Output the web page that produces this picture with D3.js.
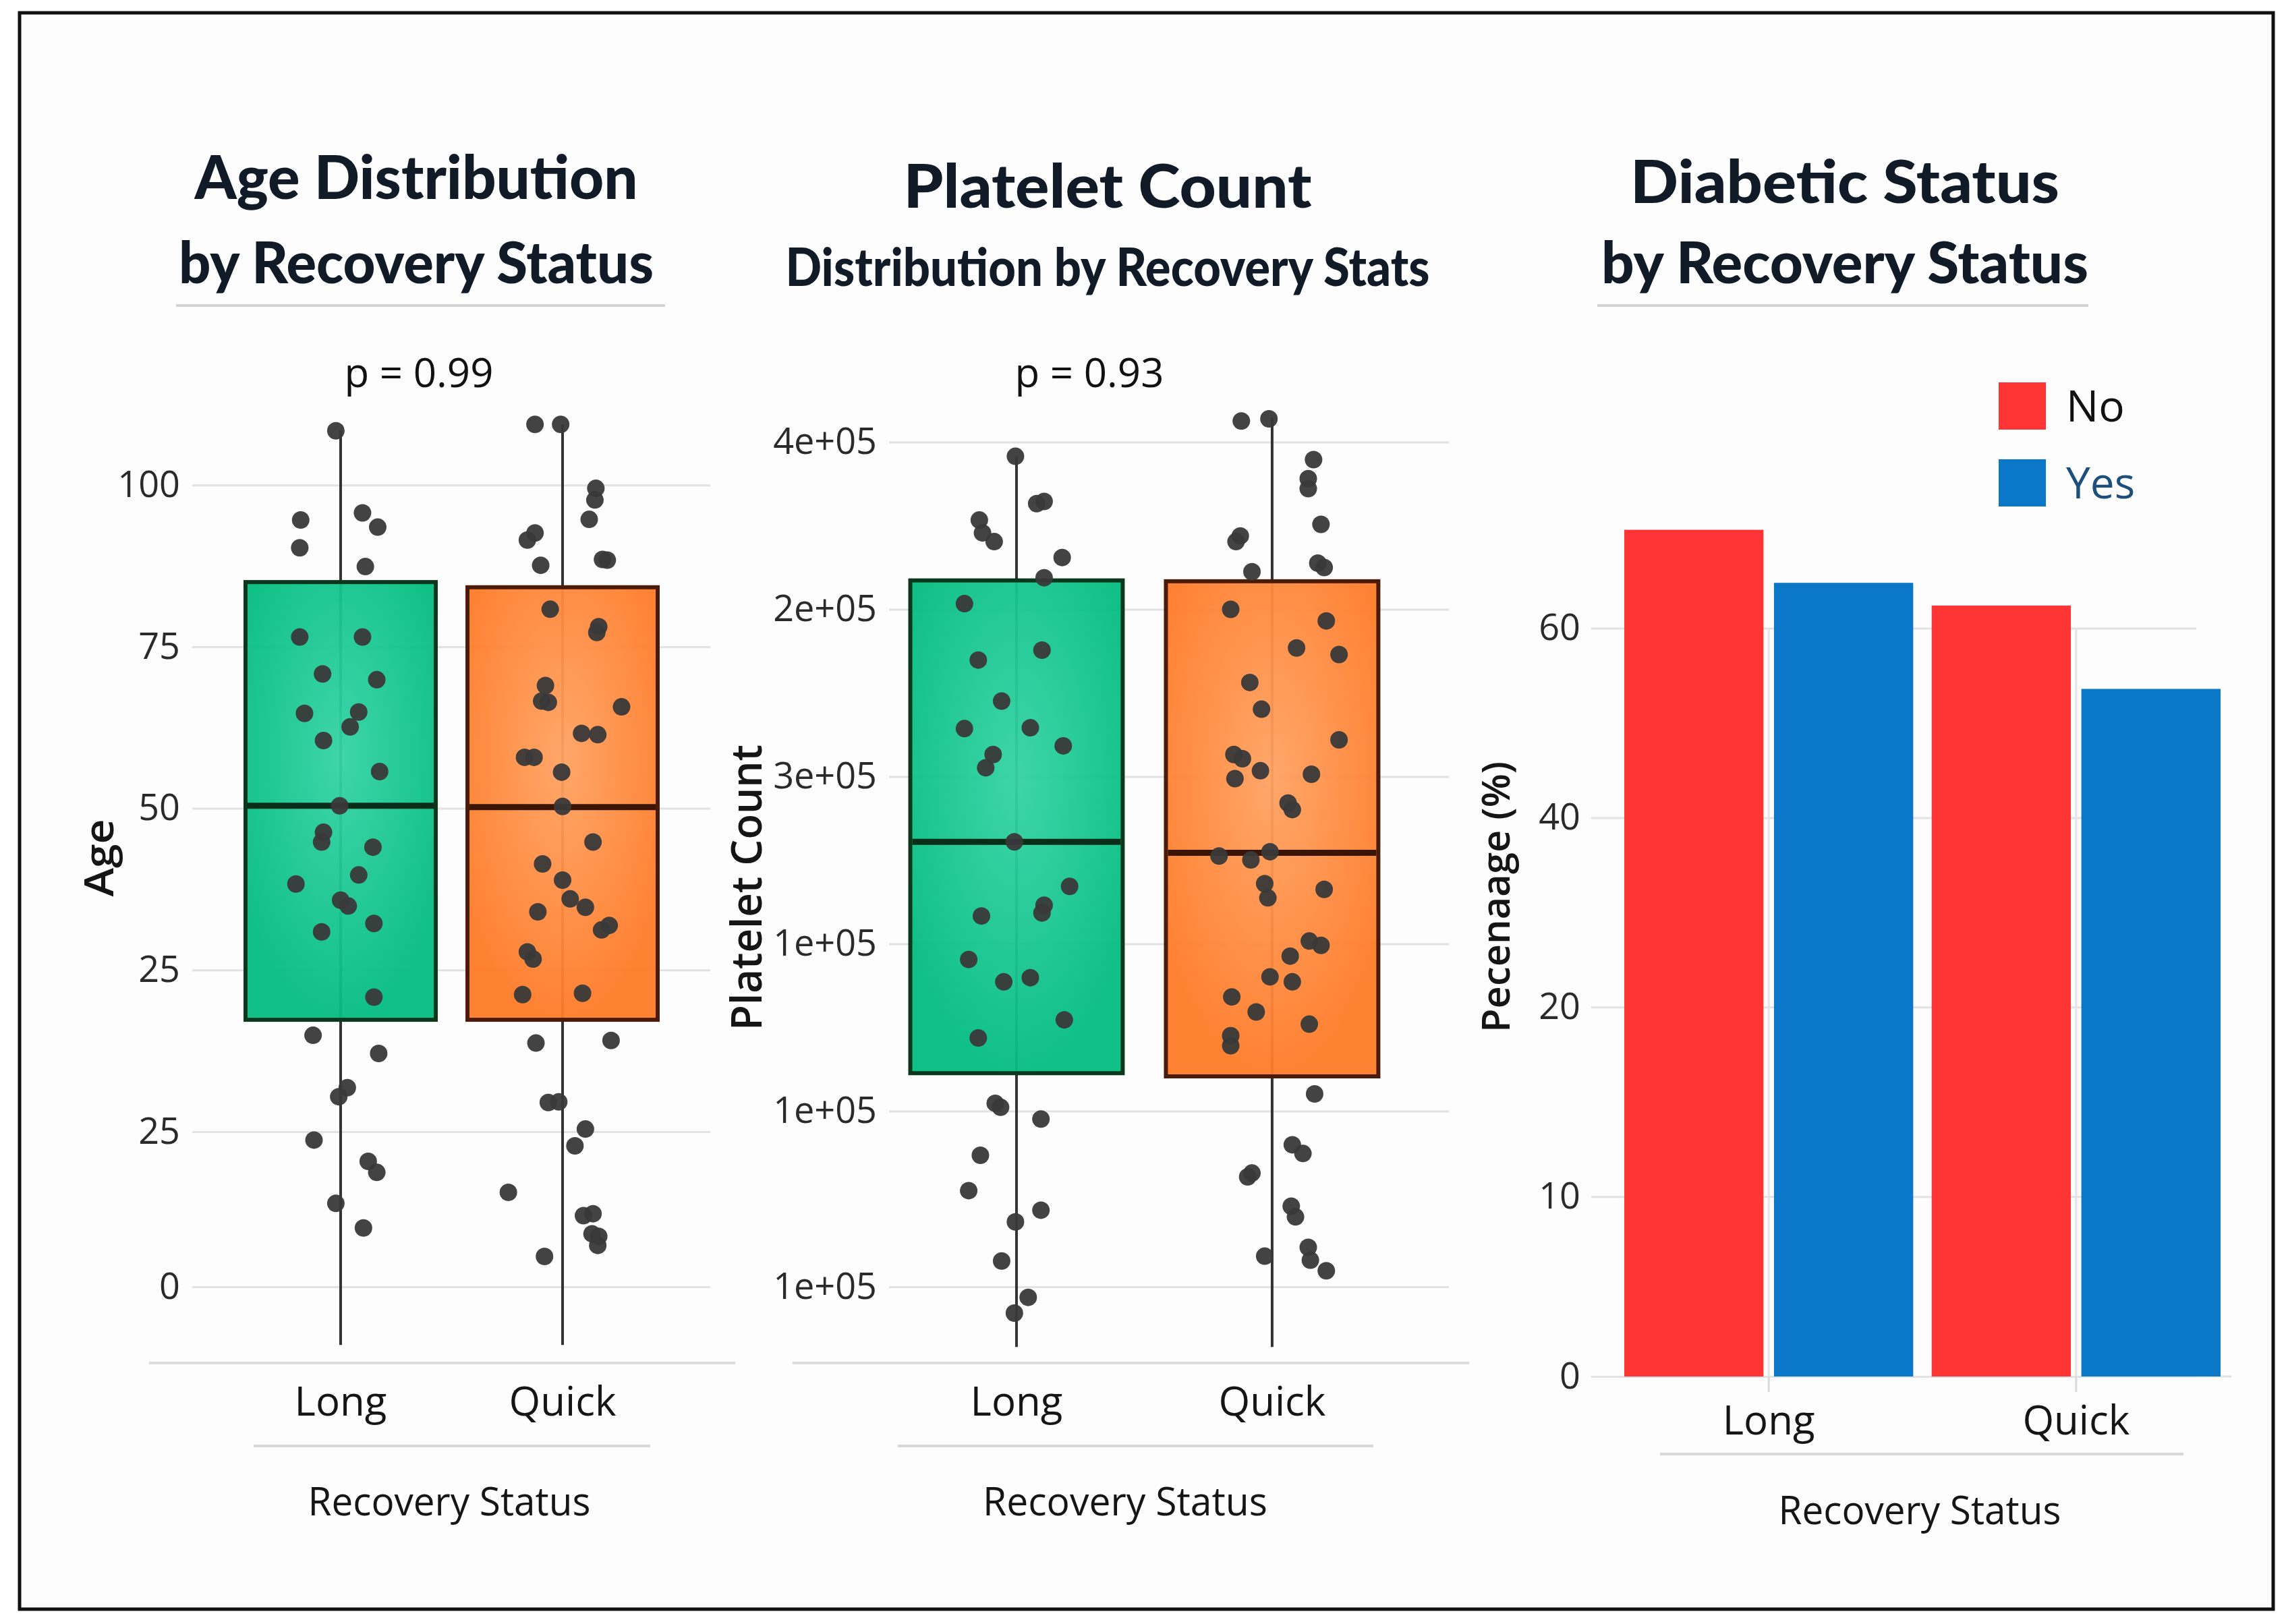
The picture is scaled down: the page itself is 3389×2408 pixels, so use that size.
<!DOCTYPE html>
<html>
<head>
<meta charset="utf-8">
<script src="https://cdn.jsdelivr.net/npm/d3@7/dist/d3.min.js"></script>
<style>
body { margin: 0; background: #ffffff; }
text { font-family: "Open Sans", "Noto Sans", sans-serif; }
</style>
</head>
<body>
<svg id="chart" width="3389" height="2408"></svg>
<script>
var recoveryGroups = ["Long", "Quick"];

// Age panel (axis labels in the original are not monotonic, kept as read)
var ageTicks = [-24, 0, 25, 50, 75, 100];
var ageTickLabels = ["0", "25", "25", "50", "75", "100"];
var ageBoxStats = [
    {group: "Long", low: -33, q1: 17.3, median: 50.4, q3: 85.0, high: 108.4},
    {group: "Quick", low: -33, q1: 17.3, median: 50.2, q3: 84.2, high: 109.4}
];
// [jitter (-1..1 of half box), age]
var ageLongPoints = [
    [-0.05,108.4],[-0.42,94.6],[-0.43,90.3],[0.23,95.7],[0.39,93.5],[0.26,87.4],
    [-0.43,76.5],[0.23,76.5],[-0.19,70.8],[0.38,69.9],[-0.38,64.7],[0.19,64.9],[0.10,62.6],[-0.18,60.5],[0.41,55.7],[-0.01,50.4],
    [-0.18,46.3],[-0.20,44.8],[0.34,44.0],[-0.47,38.3],[0.19,39.7],[0.00,35.8],[0.08,34.9],[0.35,32.2],[-0.20,30.9],[0.35,20.8],
    [-0.29,14.9],[0.40,12.1],[0.07,6.8],[-0.02,5.4],[-0.28,-1.3],[0.29,-4.6],[0.38,-6.3],[-0.05,-11.1],[0.24,-14.9]
];
var ageQuickPoints = [
    [-0.29,109.4],[-0.02,109.4],[0.35,99.5],[0.34,97.7],[0.28,94.7],[-0.29,92.6],[-0.37,91.5],[-0.23,87.6],[0.42,88.5],[0.47,88.4],
    [-0.13,80.8],[0.38,78.1],[0.36,77.2],[-0.18,69.0],[-0.22,66.6],[-0.15,66.4],[0.62,65.7],[0.20,61.6],[0.37,61.4],[-0.40,57.9],[-0.30,57.9],[-0.01,55.6],[0.00,50.3],
    [0.32,44.8],[-0.21,41.4],[0.00,38.9],[0.08,36.0],[0.24,34.7],[-0.26,34.0],[0.49,31.9],[0.41,31.2],[-0.37,27.8],[-0.31,26.7],[-0.42,21.2],[0.21,21.4],
    [-0.28,13.7],[0.51,14.1],[-0.15,4.5],[-0.04,4.6],[0.24,0.4],[0.13,-2.2],[-0.57,-9.4],[0.22,-13.0],[0.32,-12.7],[0.31,-15.8],[0.38,-16.2],[0.37,-17.6],[-0.19,-19.3]
];

// Platelet panel
var plateletTicks = [-5000, 100000, 200000, 300000, 400000, 500000];
var plateletTickLabels = ["1e+05", "1e+05", "1e+05", "3e+05", "2e+05", "4e+05"];
var plateletBoxStats = [
    {group: "Long", low: -41000, q1: 122700, median: 261000, q3: 417300, high: 491500},
    {group: "Quick", low: -41000, q1: 120800, median: 254500, q3: 416800, high: 514700}
];
var plateletLongPoints = [
    [-0.01,491500],[-0.35,453400],[-0.32,445700],[-0.21,440500],[0.19,463200],[0.26,464500],[0.43,431000],[0.26,418900],
    [-0.49,403400],[0.24,375600],[-0.36,369700],[-0.14,345200],[-0.49,328700],[0.13,329200],[0.44,318400],[-0.22,313200],[-0.29,305300],[-0.02,261000],
    [0.50,234400],[-0.33,216700],[0.26,223100],[0.24,218500],[-0.45,190700],[-0.12,177300],[0.13,179800],[0.45,154600],[-0.36,143800],
    [-0.20,104700],[-0.15,102300],[0.23,95300],[-0.34,73600],[-0.45,52500],[0.23,40800],[-0.01,33800],[-0.14,10400],[0.11,-11300],[-0.02,-20700]
];
var plateletQuickPoints = [
    [-0.29,512600],[-0.03,513900],[0.39,489500],[0.34,478100],[0.34,472200],[0.46,450800],[-0.30,443900],[-0.34,440500],[0.43,427600],[0.49,425000],[-0.19,422500],
    [-0.39,400000],[0.51,393100],[0.23,376900],[0.63,373000],[-0.21,356300],[-0.10,340300],[0.63,322000],[-0.36,313200],[-0.28,310700],[-0.11,303500],[0.37,301400],[-0.35,298800],[0.15,284200],[0.19,280300],
    [-0.50,252500],[-0.20,250200],[-0.02,255100],[-0.07,236000],[-0.04,227500],[0.49,232600],[0.35,201700],[0.46,199100],[0.17,192700],[-0.02,180300],[0.19,177300],[-0.38,168300],[-0.15,159300],[0.35,152000],[-0.39,145100],[-0.39,139100],
    [0.40,110300],[0.19,79900],[0.29,74700],[-0.23,60700],[-0.19,63000],[0.18,43200],[0.22,36800],[-0.07,13300],[0.34,18600],[0.36,10900],[0.51,4600]
];

// Diabetic panel
var diabeticStatus = ["No", "Yes"];
var diabeticLong = [70.4, 64.8];
var diabeticQuick = [62.4, 53.6];
var percentTicks = [-19, 0, 20, 40, 60];
var percentTickLabels = ["0", "10", "20", "40", "60"];

var panelTitles = [
    ["Age Distribution", "by Recovery Status"],
    ["Platelet Count", "Distribution by Recovery Stats"],
    ["Diabetic Status", "by Recovery Status"]
];
var pValues = ["p = 0.99", "p = 0.93"];
var yTitles = ["Age", "Platelet Count", "Pecenaage (%)"];
var xTitle = "Recovery Status";

var svg = d3.select("#chart");
var defs = svg.append("defs");

svg.append("rect").attr("width", 3389).attr("height", 2408).attr("fill", "#ffffff");
svg.append("rect")
    .attr("x", 29).attr("y", 19)
    .attr("width", 3341).attr("height", 2367)
    .attr("fill", "#fdfdfd")
    .attr("stroke", "#111111")
    .attr("stroke-width", 5);

function addGlow(id, inner, outer){
    var grad = defs.append("radialGradient")
        .attr("id", id)
        .attr("cx", "50%").attr("cy", "40%").attr("r", "60%");
    grad.append("stop").attr("offset", "0%").attr("stop-color", inner);
    grad.append("stop").attr("offset", "100%").attr("stop-color", outer);
}
addGlow("glowGreen", "#34d3a5", "#04bd80");
addGlow("glowOrange", "#ffa262", "#ff7b28");

var boxFill = {Long: "url(#glowGreen)", Quick: "url(#glowOrange)"};
var boxStroke = {Long: "#0b381c", Quick: "#4a1b08"};
var medianStroke = {Long: "#0b2e18", Quick: "#3a1405"};
var barColor = {No: "#ff3535", Yes: "#0a78c7"};

function drawTitle(lines, cx, baselines, sizes, widths, underline){
    lines.forEach(function(t, i){
        svg.append("text")
            .attr("x", cx).attr("y", baselines[i])
            .attr("text-anchor", "middle")
            .attr("textLength", widths[i])
            .attr("lengthAdjust", "spacingAndGlyphs")
            .style("font-family", "Lato, 'Open Sans', sans-serif")
            .style("font-weight", 900)
            .style("font-size", sizes[i] + "px")
            .attr("fill", "#111b27")
            .text(t);
    });
    if(underline){
        svg.append("line")
            .attr("x1", underline[0]).attr("x2", underline[1])
            .attr("y1", underline[2]).attr("y2", underline[2])
            .attr("stroke", "#d4d4d4").attr("stroke-width", 4);
    }
}

function drawYTitle(label, x, y, size, len){
    svg.append("text")
        .attr("transform", "translate(" + x + "," + y + ") rotate(-90)")
        .attr("text-anchor", "middle")
        .attr("textLength", len)
        .attr("lengthAdjust", "spacingAndGlyphs")
        .style("font-size", size + "px")
        .style("font-weight", 600)
        .attr("fill", "#151515")
        .text(label);
}

function drawXTitle(cx, y, len, rule){
    svg.append("line")
        .attr("x1", rule[0]).attr("x2", rule[1])
        .attr("y1", rule[2]).attr("y2", rule[2])
        .attr("stroke", "#d8d8d8").attr("stroke-width", 4);
    svg.append("text")
        .attr("x", cx).attr("y", y)
        .attr("text-anchor", "middle")
        .attr("textLength", len)
        .attr("lengthAdjust", "spacingAndGlyphs")
        .style("font-size", "58px")
        .attr("fill", "#151515")
        .text(xTitle);
}

function styleLeftAxis(g){
    g.select(".domain").remove();
    g.selectAll(".tick line").attr("stroke", "#e2e2e2").attr("stroke-width", 3);
    g.selectAll(".tick text")
        .attr("fill", "#2a2a2a")
        .style("font-size", "54px")
        .style("font-family", "'Open Sans', sans-serif");
}

function drawBoxPanel(cfg){
    var g = svg.append("g");
    var x = d3.scaleBand().domain(recoveryGroups).range(cfg.xRange).paddingInner(cfg.padInner);
    var y = d3.scaleLinear().domain(d3.extent(cfg.ticks)).range(cfg.yRange);
    var bw = x.bandwidth();
    var jitter = d3.scaleLinear().domain([-1, 1]).range([-bw / 2, bw / 2]);

    //grid + tick labels
    var yAxis = d3.axisLeft(y)
        .tickValues(cfg.ticks)
        .tickFormat(function(d, i){ return cfg.tickLabels[i]; })
        .tickSize(-(cfg.gridX[1] - cfg.gridX[0]))
        .tickPadding(18);
    g.append("g")
        .attr("transform", "translate(" + cfg.gridX[0] + ",0)")
        .call(yAxis)
        .call(styleLeftAxis);

    // baseline under the plot
    g.append("line")
        .attr("x1", cfg.baseX[0]).attr("x2", cfg.baseX[1])
        .attr("y1", 2021).attr("y2", 2021)
        .attr("stroke", "#dcdcdc").attr("stroke-width", 4);

    g.selectAll(".whisker")
        .data(cfg.boxes)
        .enter()
        .append("line")
        .attr("x1", function(d){ return x(d.group) + bw / 2; })
        .attr("x2", function(d){ return x(d.group) + bw / 2; })
        .attr("y1", function(d){ return y(d.low); })
        .attr("y2", function(d){ return y(d.high); })
        .attr("stroke", "#333333")
        .attr("stroke-width", 4);

    g.selectAll(".box")
        .data(cfg.boxes)
        .enter()
        .append("rect")
        .attr("x", function(d){ return x(d.group); })
        .attr("y", function(d){ return y(d.q3); })
        .attr("width", bw)
        .attr("height", function(d){ return y(d.q1) - y(d.q3); })
        .attr("fill", function(d){ return boxFill[d.group]; })
        .attr("fill-opacity", 0.95)
        .attr("stroke", function(d){ return boxStroke[d.group]; })
        .attr("stroke-width", 6);

    g.selectAll(".median")
        .data(cfg.boxes)
        .enter()
        .append("line")
        .attr("x1", function(d){ return x(d.group) + 3; })
        .attr("x2", function(d){ return x(d.group) + bw - 3; })
        .attr("y1", function(d){ return y(d.median); })
        .attr("y2", function(d){ return y(d.median); })
        .attr("stroke", function(d){ return medianStroke[d.group]; })
        .attr("stroke-width", 9);

    recoveryGroups.forEach(function(grp){
        g.append("g").selectAll("circle")
            .data(cfg.points[grp])
            .enter()
            .append("circle")
            .attr("cx", function(d){ return x(grp) + bw / 2 + jitter(d[0]); })
            .attr("cy", function(d){ return y(d[1]); })
            .attr("r", 13)
            .attr("fill", "#393939")
            .attr("fill-opacity", 0.95);
    });

    var xAxis = d3.axisBottom(x).tickSize(0).tickPadding(35);
    var xg = g.append("g")
        .attr("transform", "translate(0,2021)")
        .call(xAxis);
    xg.select(".domain").remove();
    xg.selectAll(".tick text")
        .attr("fill", "#151515")
        .style("font-size", "60px")
        .style("font-family", "'Open Sans', sans-serif");

    g.append("text")
        .attr("x", cfg.pX).attr("y", 574)
        .attr("text-anchor", "middle")
        .style("font-size", "60px")
        .attr("fill", "#111111")
        .text(cfg.pText);
}

function drawBarPanel(){
    var g = svg.append("g");
    var x0 = d3.scaleBand().domain(recoveryGroups).range([2408, 3292]).paddingInner(0.06);
    var x1 = d3.scaleBand().domain(diabeticStatus).range([0, x0.bandwidth()]).paddingInner(0.07);
    var y = d3.scaleLinear().domain(d3.extent(percentTicks)).range([2041, 931.6]);
    var rows = [
        {group: "Long", values: diabeticLong},
        {group: "Quick", values: diabeticQuick}
    ];

    var yAxis = d3.axisLeft(y)
        .tickValues(percentTicks)
        .tickFormat(function(d, i){ return percentTickLabels[i]; })
        .tickSize(-(3256 - 2359))
        .tickPadding(16);
    g.append("g")
        .attr("transform", "translate(2359,0)")
        .call(yAxis)
        .call(styleLeftAxis);

    // the zero line runs a bit longer
    g.append("line")
        .attr("x1", 3256).attr("x2", 3308)
        .attr("y1", y(percentTicks[0])).attr("y2", y(percentTicks[0]))
        .attr("stroke", "#e2e2e2").attr("stroke-width", 3);

    g.selectAll(".vgrid")
        .data(recoveryGroups)
        .enter()
        .append("line")
        .attr("x1", function(d){ return x0(d) + x0.bandwidth() / 2; })
        .attr("x2", function(d){ return x0(d) + x0.bandwidth() / 2; })
        .attr("y1", y(60))
        .attr("y2", y(percentTicks[0]))
        .attr("stroke", "#e4e4e4").attr("stroke-width", 3);

    var groups = g.selectAll(".grp")
        .data(rows)
        .enter()
        .append("g")
        .attr("transform", function(d){ return "translate(" + x0(d.group) + ",0)"; });
    groups.selectAll("rect")
        .data(function(d){
            return d.values.map(function(v, i){ return {status: diabeticStatus[i], value: v}; });
        })
        .enter()
        .append("rect")
        .attr("x", function(d){ return x1(d.status); })
        .attr("y", function(d){ return y(d.value); })
        .attr("width", x1.bandwidth())
        .attr("height", function(d){ return y(percentTicks[0]) - y(d.value); })
        .attr("fill", function(d){ return barColor[d.status]; });

    var xAxis = d3.axisBottom(x0).tickSize(23).tickPadding(20);
    var xg = g.append("g")
        .attr("transform", "translate(0," + y(percentTicks[0]) + ")")
        .call(xAxis);
    xg.select(".domain").remove();
    xg.selectAll(".tick line").attr("stroke", "#dadada").attr("stroke-width", 3);
    xg.selectAll(".tick text")
        .attr("fill", "#151515")
        .style("font-size", "60px")
        .style("font-family", "'Open Sans', sans-serif");

    // legend
    var leg = g.selectAll(".legend")
        .data(diabeticStatus)
        .enter()
        .append("g")
        .attr("transform", function(d, i){ return "translate(2963," + (567 + i * 114) + ")"; });
    leg.append("rect")
        .attr("width", 70).attr("height", 70)
        .attr("fill", function(d){ return barColor[d]; });
    leg.append("text")
        .attr("x", 100).attr("y", 58)
        .style("font-size", "64px")
        .attr("fill", function(d){ return d == "Yes" ? "#1d4f7c" : "#111111"; })
        .text(function(d){ return d; });
}

drawTitle(panelTitles[0], 617, [295, 420], [90, 86], [657, 704], [261, 986, 453]);
drawTitle(panelTitles[1], 1642, [308, 424], [90, 78], [605, 955], null);
drawTitle(panelTitles[2], 2735, [301, 420], [88, 86], [636, 722], [2368, 3096, 453]);

drawBoxPanel({
    ticks: ageTicks, tickLabels: ageTickLabels, boxes: ageBoxStats,
    points: {Long: ageLongPoints, Quick: ageQuickPoints},
    xRange: [364, 975], padInner: 0.143, yRange: [1908, 719.3],
    gridX: [285, 1053], baseX: [221, 1090], pX: 621, pText: pValues[0]
});
drawBoxPanel({
    ticks: plateletTicks, tickLabels: plateletTickLabels, boxes: plateletBoxStats,
    points: {Long: plateletLongPoints, Quick: plateletQuickPoints},
    xRange: [1349.5, 2043.4], padInner: 0.169, yRange: [1908, 655.5],
    gridX: [1318, 2148], baseX: [1175, 2178], pX: 1615, pText: pValues[1]
});
drawBarPanel();

drawYTitle(yTitles[0], 168, 1272, 60, 115);
drawYTitle(yTitles[1], 1129, 1316, 64, 424);
drawYTitle(yTitles[2], 2238, 1330, 58, 402);

drawXTitle(666, 2247, 419, [376, 964, 2144]);
drawXTitle(1668, 2247, 422, [1331, 2036, 2144]);
drawXTitle(2846, 2260, 419, [2461, 3237, 2156]);
</script>
</body>
</html>
